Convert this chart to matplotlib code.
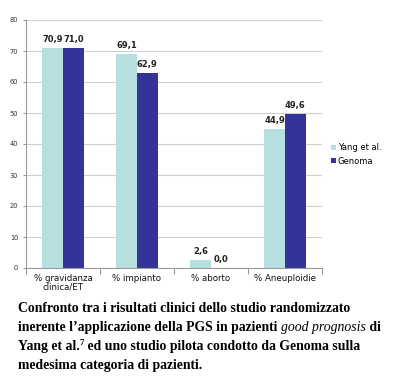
import matplotlib
matplotlib.use("Agg")
import matplotlib.pyplot as plt
import numpy as np

categories = ["% gravidanza\nclinica/ET", "% impianto", "% aborto", "% Aneuploidie"]
yang = [70.9, 69.1, 2.6, 44.9]
genoma = [71.0, 62.9, 0.0, 49.6]
series_names = ["Yang et al.", "Genoma"]
yticks = [0, 10, 20, 30, 40, 50, 60, 70, 80]

c_yang = "#B7DFE0"
c_gen = "#333399"

W, H = 406, 392
fig = plt.figure(figsize=(W / 100, H / 100), dpi=100)
ax = fig.add_axes([26 / W, 1 - 268 / H, 296 / W, 248 / H])

x = np.arange(len(categories))
bw = 0.28
b1 = ax.bar(x - bw / 2, yang, bw, color=c_yang, label=series_names[0])
b2 = ax.bar(x + bw / 2, genoma, bw, color=c_gen, label=series_names[1])

fmt = lambda v: f"{v:.1f}".replace(".", ",")
for bars, vals in ((b1, yang), (b2, genoma)):
    for r, v in zip(bars, vals):
        ax.annotate(fmt(v), (r.get_x() + r.get_width() / 2, v), xytext=(0, 3),
                    textcoords="offset points", ha="center", va="bottom",
                    fontsize=6.0, fontweight="bold", color="#222222")

ax.set_xlim(-0.5, len(categories) - 0.5)
ax.set_ylim(0, 80)
ax.set_yticks(yticks)
ax.set_yticklabels([str(t) for t in yticks], fontsize=4.8, color="#333333")
ax.yaxis.grid(True, color="#D0D0D0", linewidth=0.8)
ax.set_axisbelow(True)
ax.set_xticks(x)
ax.set_xticklabels(categories, fontsize=6.2, color="#111111", linespacing=1.0,
                   multialignment="center")
ax.tick_params(axis="x", length=0, pad=4)
ax.set_xticks(np.arange(-0.5, len(categories)), minor=True)
ax.tick_params(axis="x", which="minor", length=4, color="#999999", width=0.8)
ax.tick_params(axis="y", length=2.5, color="#999999", width=0.8, pad=3)
for s in ("top", "right"):
    ax.spines[s].set_visible(False)
for s in ("left", "bottom"):
    ax.spines[s].set_color("#999999")
    ax.spines[s].set_linewidth(0.8)

leg = fig.legend(handles=[b1, b2], labels=series_names, loc="upper left",
                 bbox_to_anchor=(328 / W, 1 - 140 / H), frameon=False,
                 fontsize=6.0, handlelength=0.6, handleheight=0.6,
                 handletextpad=0.2, labelspacing=0.5, borderaxespad=0)

# caption
fig.canvas.draw()
renderer = fig.canvas.get_renderer()
base = dict(family="Liberation Serif", fontsize=9.9, fontweight="bold", color="black")

def runs(x0, y0, parts):
    xx = x0
    for txt, extra in parts:
        kw = dict(base)
        kw.update(extra)
        dy = kw.pop("dy", 0)
        t = fig.text(xx / W, 1 - (y0 - dy) / H, txt, va="baseline", ha="left", **kw)
        bb = t.get_window_extent(renderer)
        xx += bb.width

lines = [
    [("Confronto tra i risultati clinici dello studio randomizzato", {})],
    [("inerente l\u2019applicazione della PGS in pazienti ", {}),
     ("good prognosis", dict(fontstyle="italic", fontweight="normal")),
     (" di", {})],
    [("Yang et al.", {}), ("7", dict(fontsize=6.5, dy=5)),
     (" ed uno studio pilota condotto da Genoma sulla", {})],
    [("medesima categoria di pazienti.", {})],
]
ys = [312, 331, 350, 369]
for parts, yy in zip(lines, ys):
    runs(18, yy, parts)

fig.savefig("out.png", dpi=100)
